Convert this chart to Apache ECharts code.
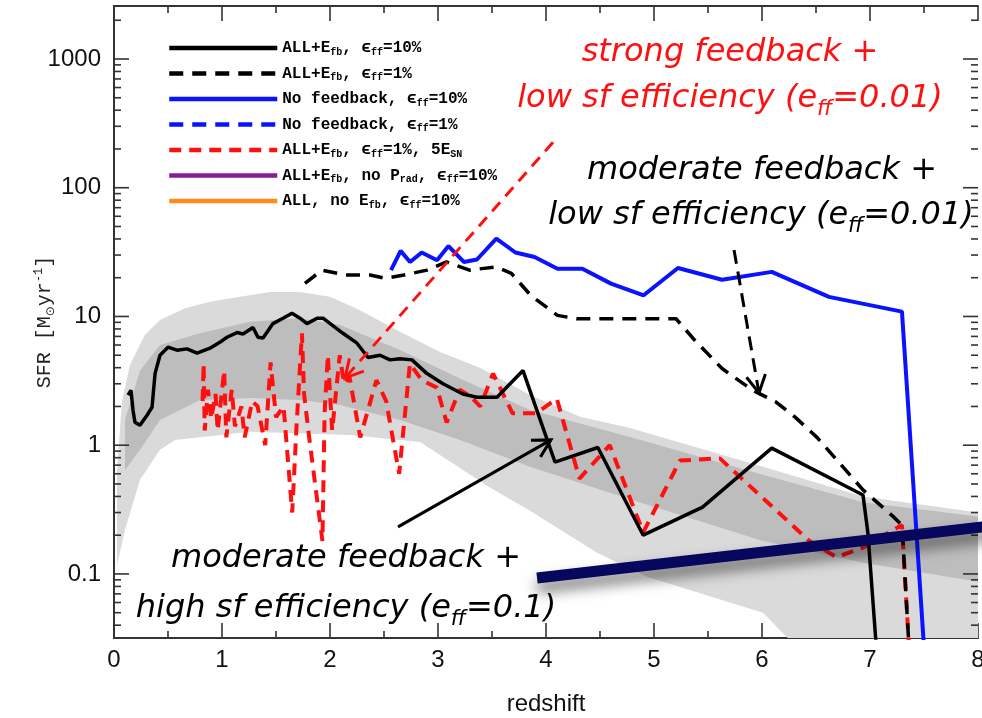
<!DOCTYPE html>
<html>
<head>
<meta charset="utf-8">
<script src="https://cdn.jsdelivr.net/npm/echarts@6/dist/echarts.min.js"></script>
<style>
  html, body { margin: 0; padding: 0; background: #fff; }
  #chart { width: 982px; height: 718px; }
</style>
</head>
<body>
<div id="chart"></div>
<script>
// ---- Star formation rate vs. redshift for several feedback / efficiency runs ----

// ALL+E_fb, eps_ff = 10%
const zAllFb10 = [0.13,0.157,0.176,0.194,0.24,0.306,0.352,0.38,0.426,0.5,0.583,0.676,0.769,0.889,0.98,1.046,1.139,1.194,1.287,1.333,1.38,1.472,1.565,1.648,1.722,1.787,1.88,1.935,2.12,2.25,2.352,2.463,2.556,2.648,2.759,2.898,3.046,3.23,3.36,3.546,3.787,4.083,4.48,4.9,5.45,6.09,6.935,6.98,7.07];
const sfrAllFb10 = [2.45,2.67,1.87,1.51,1.43,1.71,1.97,3.6,5.0,5.77,5.47,5.6,5.2,5.67,6.3,6.9,7.5,7.3,8.2,6.9,6.8,8.8,9.7,10.6,9.7,8.8,9.7,9.7,7.4,6.2,4.8,5.0,4.6,4.7,4.6,3.6,3.0,2.5,2.36,2.36,3.8,0.74,0.96,0.2,0.33,0.95,0.41,0.21,0.02];

// ALL+E_fb, eps_ff = 1%
const zAllFb1 = [1.768,1.926,2.139,2.37,2.51,2.685,2.898,3.079,3.292,3.54,3.68,3.858,4.106,4.284,5.204,5.38,5.63,5.914,6.127,6.304,6.509,6.935,7.213,7.296,7.37];
const sfrAllFb1 = [18.1,22.9,21,21,19.8,21,22.9,26.5,22.9,24.3,21.6,14.6,10.2,9.6,9.6,6.5,3.94,2.67,2.17,1.66,1.15,0.45,0.28,0.24,0.02];

// No feedback, eps_ff = 10%
const zNoFb10 = [2.565,2.654,2.741,2.849,2.991,3.097,3.239,3.361,3.54,3.717,3.894,4.106,4.337,4.602,4.904,5.222,5.63,6.09,6.62,7.296,7.51];
const sfrNoFb10 = [22.9,32.3,26.5,31.4,27.3,35.2,26.5,27.7,40.3,31.4,29.0,23.5,23.5,18.0,14.6,23.8,19.3,22.2,14.2,10.9,0.02];

// ALL+E_fb, eps_ff = 1%, 5 E_SN
const zAllFb1Sn5 = [0.82,0.83,0.84,0.87,0.9,0.94,0.96,1.02,1.04,1.09,1.12,1.18,1.21,1.28,1.33,1.4,1.45,1.5,1.57,1.65,1.69,1.74,1.76,1.81,1.93,1.95,1.98,2.02,2.09,2.13,2.18,2.28,2.43,2.52,2.64,2.74,2.85,2.99,3.08,3.2,3.3,3.39,3.51,3.69,3.91,4.1,4.31,4.59,4.9,5.24,5.61,6.44,6.69,6.935,7.296,7.37];
const sfrAllFb1Sn5 = [2.2,4.3,1.3,2.7,1.6,2.5,1.3,3.8,1.15,2.7,1.4,2.0,1.15,2.2,2.0,1.0,4.4,1.65,2.0,0.3,1.4,7.4,2.5,1.1,0.18,1.8,5.0,1.3,5.0,3.0,3.4,1.15,3.2,2.2,0.6,4.3,3.2,2.8,1.5,2.7,2.4,2.0,3.6,1.77,1.77,2.3,0.55,1.0,0.21,0.76,0.79,0.18,0.135,0.16,0.24,0.02];

// Observational envelope (outer, light) and core (inner, darker)
const outerUpZ = [0.028,0.074,0.148,0.287,0.426,0.657,0.889,1.167,1.444,1.722,2.0,2.278,2.648,3.019,3.389,3.852,4.315,4.778,6.009,6.935,8.0];
const outerUpSfr = [0.64,2.2,4.2,7.2,9.4,11.6,13.0,14.2,15.5,15.5,14.2,11.2,7.6,5.3,4.0,2.45,1.66,1.36,0.68,0.40,0.30];
const outerLoZ = [0.028,0.102,0.241,0.426,0.565,1.259,2.185,2.833,3.481,3.852,4.472,4.935,6.009,6.472,8.0];
const outerLoSfr = [0.117,0.22,0.54,0.92,1.1,1.27,1.2,1.06,0.47,0.31,0.146,0.095,0.05,0.02,0.02];
const innerUpZ = [0.102,0.241,0.426,0.796,1.259,1.722,2.093,2.648,3.204,3.852,4.778,6.009,6.935,8.0];
const innerUpSfr = [1.57,3.8,6.0,7.4,9.1,9.7,8.6,5.5,3.3,1.88,1.16,0.59,0.36,0.28];
const innerLoZ = [0.102,0.241,0.426,0.796,1.259,1.722,2.093,2.648,3.204,3.852,4.778,6.009,6.935,8.0];
const innerLoSfr = [0.64,0.92,1.57,2.24,2.33,2.24,2.05,1.57,1.1,0.68,0.38,0.18,0.122,0.087];

// Axis ticks
const xTicks = [0,1,2,3,4,5,6,7,8];
const yMajorTicks = [0.1,1,10,100,1000];
const yMinorTicks = [0.04,0.05,0.06,0.07,0.08,0.09,0.2,0.3,0.4,0.5,0.6,0.7,0.8,0.9,2,3,4,5,6,7,8,9,20,30,40,50,60,70,80,90,200,300,400,500,600,700,800,900,2000];

// Legend entries
const legendNames = ['allFb10','allFb1','noFb10','noFb1','allFb1Sn5','allFbNoPrad','allNoFb'];
const legendLabels = {
  allFb10:     '{t|ALL+E}{s|fb}{t|, ϵ}{s|ff}{t|=10%}',
  allFb1:      '{t|ALL+E}{s|fb}{t|, ϵ}{s|ff}{t|=1%}',
  noFb10:      '{t|No feedback, ϵ}{s|ff}{t|=10%}',
  noFb1:       '{t|No feedback, ϵ}{s|ff}{t|=1%}',
  allFb1Sn5:   '{t|ALL+E}{s|fb}{t|, ϵ}{s|ff}{t|=1%, 5E}{s|SN}',
  allFbNoPrad: '{t|ALL+E}{s|fb}{t|, no P}{s|rad}{t|, ϵ}{s|ff}{t|=10%}',
  allNoFb:     '{t|ALL, no E}{s|fb}{t|, ϵ}{s|ff}{t|=10%}'
};

const Y_MIN = 0.0318, Y_MAX = 2580;
const zip = (a, b) => a.map((v, i) => [v, b[i]]);

function bandSeries(upZ, upV, loZ, loV, color, zl) {
  return {
    type: 'custom', clip: true, silent: true, z: zl, data: [[0, 1]],
    renderItem(params, api) {
      const pts = [];
      for (let i = 0; i < upZ.length; i++) pts.push(api.coord([upZ[i], upV[i]]));
      for (let i = loZ.length - 1; i >= 0; i--) pts.push(api.coord([loZ[i], loV[i]]));
      return { type: 'polygon', shape: { points: pts }, style: { fill: color } };
    }
  };
}

// Log-axis tick marks (inside, on both left and right frame edges)
const yTickSeries = {
  type: 'custom', silent: true, z: 20, data: [[0, 1]],
  renderItem(params, api) {
    const cs = params.coordSys;
    const children = [];
    const add = (v, len) => {
      const y = api.coord([0, v])[1];
      children.push({ type: 'line', shape: { x1: cs.x, y1: y, x2: cs.x + len, y2: y }, style: { stroke: '#333', lineWidth: 1.6 } });
      children.push({ type: 'line', shape: { x1: cs.x + cs.width, y1: y, x2: cs.x + cs.width - len, y2: y }, style: { stroke: '#333', lineWidth: 1.6 } });
    };
    yMajorTicks.forEach(v => add(v, 15));
    yMinorTicks.forEach(v => add(v, 7));
    return { type: 'group', children };
  }
};

const chart = echarts.init(document.getElementById('chart'), null, { renderer: 'canvas' });

const frame = { show: true, lineStyle: { color: '#333', width: 2 } };

const option = {
  animation: false,
  backgroundColor: '#fff',
  grid: { left: 114, right: 4, top: 6, bottom: 80, outerBoundsMode: 'none' },
  legend: {
    orient: 'vertical', left: 162, top: 35,
    itemWidth: 108, itemHeight: 14, itemGap: 8.5,
    selectedMode: false,
    data: legendNames,
    itemStyle: { opacity: 0 },
    lineStyle: { width: 4.5 },
    formatter: name => legendLabels[name],
    textStyle: {
      color: '#000', padding: [0, 0, 0, 0],
      rich: {
        t: { fontFamily: 'Liberation Mono', fontWeight: 'bold', fontSize: 16, lineHeight: 18, color: '#000' },
        s: { fontFamily: 'Liberation Mono', fontWeight: 'bold', fontSize: 10, lineHeight: 18, verticalAlign: 'bottom', color: '#000', padding: [6, 0, 0, 0] }
      }
    }
  },
  xAxis: [{
    type: 'value', min: 0, max: 8, interval: 1, position: 'bottom',
    axisLine: frame,
    axisTick: { show: true, inside: true, length: 15, lineStyle: { color: '#333', width: 1.6 } },
    minorTick: { show: true, splitNumber: 2, length: 7, lineStyle: { color: '#333', width: 1.6 } },
    splitLine: { show: false },
    axisLabel: { margin: 10, fontSize: 24, color: '#111', fontFamily: 'Liberation Sans',
      formatter: v => (xTicks.indexOf(v) >= 0 ? String(v) : '') },
    name: 'redshift', nameLocation: 'middle', nameGap: 54, nameMoveOverlap: false,
    nameTextStyle: { fontSize: 24, color: '#111', fontFamily: 'Liberation Sans' }
  }, {
    type: 'value', min: 0, max: 8, interval: 1, position: 'top',
    axisLine: frame,
    axisTick: { show: true, inside: true, length: 15, lineStyle: { color: '#333', width: 1.6 } },
    minorTick: { show: true, splitNumber: 2, length: 7, lineStyle: { color: '#333', width: 1.6 } },
    splitLine: { show: false }, axisLabel: { show: false }
  }],
  yAxis: [{
    type: 'log', logBase: 10, min: Y_MIN, max: Y_MAX, position: 'left',
    axisLine: frame, axisTick: { show: false }, splitLine: { show: false },
    axisLabel: {
      margin: 13, fontSize: 24, color: '#111', fontFamily: 'Liberation Sans',
      showMinLabel: false, showMaxLabel: false,
      formatter: v => {
        const hit = yMajorTicks.find(t => Math.abs(v - t) / t < 1e-6);
        return hit !== undefined ? String(hit) : '';
      }
    },
    name: '{a|SFR [M}{b|⊙}{a|yr}{c|-1}{a|]}', nameLocation: 'middle', nameRotate: 90,
    nameGap: 57, nameMoveOverlap: false,
    nameTextStyle: {
      rich: {
        a: { fontFamily: 'Liberation Mono', fontSize: 20, color: '#222', lineHeight: 24 },
        b: { fontFamily: 'DejaVu Sans', fontSize: 12, color: '#222', lineHeight: 24, verticalAlign: 'bottom' },
        c: { fontFamily: 'Liberation Mono', fontSize: 12, color: '#222', lineHeight: 24, verticalAlign: 'top' }
      }
    }
  }, {
    type: 'log', logBase: 10, min: Y_MIN, max: Y_MAX, position: 'right',
    axisLine: frame, axisTick: { show: false }, splitLine: { show: false }, axisLabel: { show: false }
  }],
  series: [
    bandSeries(outerUpZ, outerUpSfr, outerLoZ, outerLoSfr, '#dadada', 1),
    bandSeries(innerUpZ, innerUpSfr, innerLoZ, innerLoSfr, '#bdbdbd', 2),
    yTickSeries,
    { name: 'allFb10', type: 'line', z: 6, symbol: 'none', data: zip(zAllFb10, sfrAllFb10),
      lineStyle: { color: '#000', width: 3.5 }, itemStyle: { color: '#000' } },
    { name: 'allFb1', type: 'line', z: 5, symbol: 'none', data: zip(zAllFb1, sfrAllFb1),
      lineStyle: { color: '#000', width: 3.5, type: [14, 9] }, itemStyle: { color: '#000' } },
    { name: 'noFb10', type: 'line', z: 5, symbol: 'none', data: zip(zNoFb10, sfrNoFb10),
      lineStyle: { color: '#0a12ff', width: 4 }, itemStyle: { color: '#0a12ff' } },
    { name: 'noFb1', type: 'line', z: 5, symbol: 'none', data: [],
      lineStyle: { color: '#0a12ff', width: 4, type: [14, 9] }, itemStyle: { color: '#0a12ff' } },
    { name: 'allFb1Sn5', type: 'line', z: 4, symbol: 'none', data: zip(zAllFb1Sn5, sfrAllFb1Sn5),
      lineStyle: { color: '#ff1010', width: 4, type: [12, 8] }, itemStyle: { color: '#ff1010' } },
    { name: 'allFbNoPrad', type: 'line', z: 5, symbol: 'none', data: [],
      lineStyle: { color: '#8a1a9a', width: 4 }, itemStyle: { color: '#8a1a9a' } },
    { name: 'allNoFb', type: 'line', z: 5, symbol: 'none', data: [],
      lineStyle: { color: '#ff8c1a', width: 4 }, itemStyle: { color: '#ff8c1a' } }
  ]
};

chart.setOption(option);

// ---- Annotations: arrows and labels placed in data space ----
const toPx = p => chart.convertToPixel({ gridIndex: 0 }, p);

const redArrow = { from: [4.065, 226], to: [2.139, 3.33] };
const blackDashArrow = { from: [5.741, 32.9], to: [5.972, 2.55] };
const blackArrow = { from: [2.63, 0.232], to: [4.046, 1.1] };
const navyBar = { from: [3.917, 0.093], to: [8.037, 0.232] };

function arrow(spec, color, dash) {
  const a = toPx(spec.from), b = toPx(spec.to);
  const ang = Math.atan2(a[1] - b[1], a[0] - b[0]);
  const len = 20, spread = 0.5;
  const head = [
    [b[0] + len * Math.cos(ang + spread), b[1] + len * Math.sin(ang + spread)],
    b,
    [b[0] + len * Math.cos(ang - spread), b[1] + len * Math.sin(ang - spread)]
  ];
  return [
    { type: 'line', z: 50, shape: { x1: a[0], y1: a[1], x2: b[0], y2: b[1] },
      style: { stroke: color, lineWidth: 3, lineDash: dash || null } },
    { type: 'polyline', z: 50, shape: { points: head }, style: { stroke: color, lineWidth: 3, fill: null } }
  ];
}

const nb0 = toPx(navyBar.from), nb1 = toPx(navyBar.to);

const annoRich = color => ({
  a: { fontFamily: 'DejaVu Sans', fontStyle: 'italic', fontSize: 32, lineHeight: 42, fill: color, color: color },
  s: { fontFamily: 'DejaVu Sans', fontStyle: 'italic', fontSize: 21, lineHeight: 42, verticalAlign: 'bottom', fill: color, color: color }
});
function label(text, x, y, color) {
  return { type: 'text', z: 60, x, y,
    style: { text, rich: annoRich(color), fill: color, align: 'center', verticalAlign: 'middle' } };
}

const graphics = [].concat(
  arrow(redArrow, '#ff1010', [12, 8]),
  arrow(blackDashArrow, '#000', [14, 8]),
  arrow(blackArrow, '#000'),
  [{ type: 'line', z: 55, shape: { x1: nb0[0], y1: nb0[1], x2: nb1[0] + 10, y2: nb1[1] - 1 },
     style: { stroke: '#07075e', lineWidth: 11, shadowBlur: 14, shadowColor: 'rgba(0,0,0,0.55)', shadowOffsetY: 9 } }],
  [
    label('{a|strong feedback +}', 730, 53, '#ff1010'),
    label('{a|low sf efficiency (e}{s|ff}{a|=0.01)}', 730, 99, '#ff1010'),
    label('{a|moderate feedback +}', 762, 171, '#000'),
    label('{a|low sf efficiency (e}{s|ff}{a|=0.01)}', 761, 216, '#000'),
    label('{a|moderate feedback +}', 346, 559, '#000'),
    label('{a|high sf efficiency (e}{s|ff}{a|=0.1)}', 346, 609, '#000')
  ]
);

chart.setOption({ graphic: graphics });
</script>
</body>
</html>
